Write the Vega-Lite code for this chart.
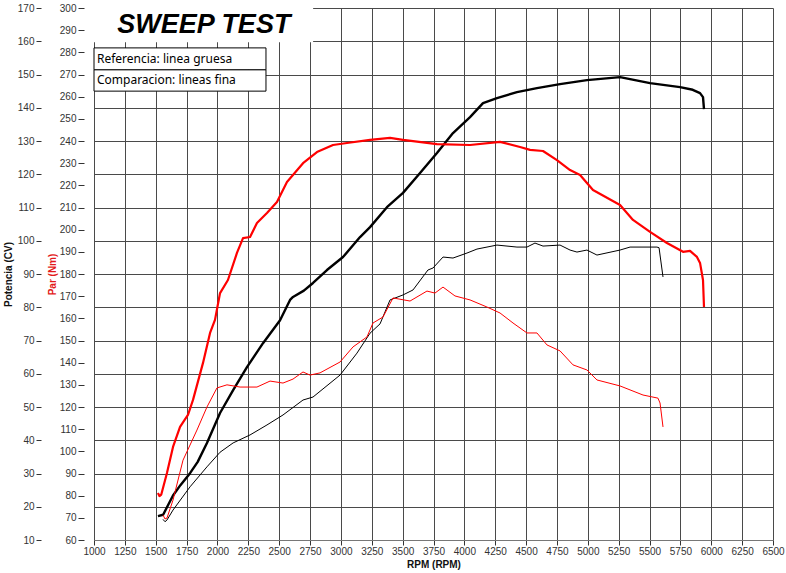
{
  "$schema": "https://vega.github.io/schema/vega-lite/v6.json",
  "width": 679,
  "height": 532,
  "autosize": {"type": "none"},
  "padding": {"left": 94, "top": 8, "right": 13, "bottom": 33},
  "background": "white",
  "config": {
    "view": {"stroke": null},
    "axis": {
      "labelFont": "Liberation Sans",
      "titleFont": "Liberation Sans",
      "labelFontSize": 10,
      "labelColor": "#333333",
      "tickColor": "#333333",
      "titleFontSize": 10,
      "titleFontWeight": "bold",
      "titleColor": "#111111",
      "labelOverlap": false,
      "labelBound": false,
      "tickCount": 60
    }
  },
  "datasets": {
    "potencia": [
      {"series": "ref", "rpm": 1518, "cv": 17.2}, {"series": "ref", "rpm": 1560, "cv": 17.6}, {"series": "ref", "rpm": 1640, "cv": 23.4}, {"series": "ref", "rpm": 1700, "cv": 26.5}, {"series": "ref", "rpm": 1778, "cv": 30.1}, {"series": "ref", "rpm": 1840, "cv": 33.5}, {"series": "ref", "rpm": 1915, "cv": 39.2}, {"series": "ref", "rpm": 2021, "cv": 48.2}, {"series": "ref", "rpm": 2127, "cv": 55.1}, {"series": "ref", "rpm": 2239, "cv": 62.0}, {"series": "ref", "rpm": 2369, "cv": 69.2}, {"series": "ref", "rpm": 2507, "cv": 76.1}, {"series": "ref", "rpm": 2588, "cv": 82.2}, {"series": "ref", "rpm": 2612, "cv": 83.1}, {"series": "ref", "rpm": 2700, "cv": 85.0}, {"series": "ref", "rpm": 2774, "cv": 87.3}, {"series": "ref", "rpm": 2887, "cv": 91.2}, {"series": "ref", "rpm": 3017, "cv": 95.1}, {"series": "ref", "rpm": 3155, "cv": 101.1}, {"series": "ref", "rpm": 3236, "cv": 104.1}, {"series": "ref", "rpm": 3373, "cv": 110.1}, {"series": "ref", "rpm": 3503, "cv": 114.4}, {"series": "ref", "rpm": 3641, "cv": 120.4}, {"series": "ref", "rpm": 3778, "cv": 126.4}, {"series": "ref", "rpm": 3908, "cv": 132.4}, {"series": "ref", "rpm": 4046, "cv": 137.2}, {"series": "ref", "rpm": 4151, "cv": 141.4}, {"series": "ref", "rpm": 4264, "cv": 142.9}, {"series": "ref", "rpm": 4426, "cv": 144.7}, {"series": "ref", "rpm": 4588, "cv": 145.9}, {"series": "ref", "rpm": 4775, "cv": 147.1}, {"series": "ref", "rpm": 4993, "cv": 148.3}, {"series": "ref", "rpm": 5261, "cv": 149.2}, {"series": "ref", "rpm": 5504, "cv": 147.4}, {"series": "ref", "rpm": 5747, "cv": 146.2}, {"series": "ref", "rpm": 5850, "cv": 145.4}, {"series": "ref", "rpm": 5909, "cv": 144.4}, {"series": "ref", "rpm": 5933, "cv": 143.2}, {"series": "ref", "rpm": 5941, "cv": 139.6},
      {"series": "comp", "rpm": 1559, "cv": 16.2}, {"series": "comp", "rpm": 1575, "cv": 15.5}, {"series": "comp", "rpm": 1591, "cv": 16.0}, {"series": "comp", "rpm": 1640, "cv": 19.0}, {"series": "comp", "rpm": 1778, "cv": 26.0}, {"series": "comp", "rpm": 1915, "cv": 32.0}, {"series": "comp", "rpm": 2021, "cv": 36.4}, {"series": "comp", "rpm": 2127, "cv": 39.2}, {"series": "comp", "rpm": 2264, "cv": 41.6}, {"series": "comp", "rpm": 2401, "cv": 44.6}, {"series": "comp", "rpm": 2531, "cv": 47.6}, {"series": "comp", "rpm": 2693, "cv": 52.1}, {"series": "comp", "rpm": 2774, "cv": 53.0}, {"series": "comp", "rpm": 2993, "cv": 59.6}, {"series": "comp", "rpm": 3130, "cv": 66.2}, {"series": "comp", "rpm": 3236, "cv": 72.2}, {"series": "comp", "rpm": 3317, "cv": 75.0}, {"series": "comp", "rpm": 3398, "cv": 82.2}, {"series": "comp", "rpm": 3503, "cv": 83.7}, {"series": "comp", "rpm": 3584, "cv": 85.2}, {"series": "comp", "rpm": 3705, "cv": 91.2}, {"series": "comp", "rpm": 3746, "cv": 91.8}, {"series": "comp", "rpm": 3827, "cv": 95.1}, {"series": "comp", "rpm": 3908, "cv": 94.8}, {"series": "comp", "rpm": 4021, "cv": 96.3}, {"series": "comp", "rpm": 4102, "cv": 97.5}, {"series": "comp", "rpm": 4264, "cv": 98.7}, {"series": "comp", "rpm": 4426, "cv": 98.1}, {"series": "comp", "rpm": 4507, "cv": 98.1}, {"series": "comp", "rpm": 4572, "cv": 99.3}, {"series": "comp", "rpm": 4637, "cv": 98.4}, {"series": "comp", "rpm": 4775, "cv": 98.7}, {"series": "comp", "rpm": 4856, "cv": 97.2}, {"series": "comp", "rpm": 4912, "cv": 96.6}, {"series": "comp", "rpm": 4993, "cv": 97.2}, {"series": "comp", "rpm": 5074, "cv": 95.7}, {"series": "comp", "rpm": 5261, "cv": 97.2}, {"series": "comp", "rpm": 5342, "cv": 98.1}, {"series": "comp", "rpm": 5560, "cv": 98.1}, {"series": "comp", "rpm": 5577, "cv": 97.9}, {"series": "comp", "rpm": 5609, "cv": 89.1}
    ],
    "par": [
      {"series": "ref", "rpm": 1518, "nm": 81.2}, {"series": "ref", "rpm": 1530, "nm": 79.8}, {"series": "ref", "rpm": 1545, "nm": 80.5}, {"series": "ref", "rpm": 1591, "nm": 90.2}, {"series": "ref", "rpm": 1640, "nm": 102.0}, {"series": "ref", "rpm": 1697, "nm": 111.0}, {"series": "ref", "rpm": 1761, "nm": 116.4}, {"series": "ref", "rpm": 1802, "nm": 123.2}, {"series": "ref", "rpm": 1883, "nm": 139.9}, {"series": "ref", "rpm": 1940, "nm": 153.4}, {"series": "ref", "rpm": 1980, "nm": 159.3}, {"series": "ref", "rpm": 2021, "nm": 171.4}, {"series": "ref", "rpm": 2085, "nm": 177.3}, {"series": "ref", "rpm": 2158, "nm": 189.5}, {"series": "ref", "rpm": 2207, "nm": 196.2}, {"series": "ref", "rpm": 2264, "nm": 196.7}, {"series": "ref", "rpm": 2320, "nm": 203.0}, {"series": "ref", "rpm": 2401, "nm": 207.5}, {"series": "ref", "rpm": 2482, "nm": 212.5}, {"series": "ref", "rpm": 2563, "nm": 221.5}, {"series": "ref", "rpm": 2693, "nm": 230.0}, {"series": "ref", "rpm": 2806, "nm": 235.0}, {"series": "ref", "rpm": 2936, "nm": 238.2}, {"series": "ref", "rpm": 3049, "nm": 239.1}, {"series": "ref", "rpm": 3236, "nm": 240.5}, {"series": "ref", "rpm": 3398, "nm": 241.4}, {"series": "ref", "rpm": 3503, "nm": 240.5}, {"series": "ref", "rpm": 3778, "nm": 238.6}, {"series": "ref", "rpm": 4046, "nm": 238.2}, {"series": "ref", "rpm": 4289, "nm": 239.6}, {"series": "ref", "rpm": 4451, "nm": 237.3}, {"series": "ref", "rpm": 4532, "nm": 236.0}, {"series": "ref", "rpm": 4637, "nm": 235.5}, {"series": "ref", "rpm": 4750, "nm": 231.4}, {"series": "ref", "rpm": 4856, "nm": 226.9}, {"series": "ref", "rpm": 4937, "nm": 224.7}, {"series": "ref", "rpm": 5042, "nm": 217.9}, {"series": "ref", "rpm": 5261, "nm": 211.1}, {"series": "ref", "rpm": 5366, "nm": 204.4}, {"series": "ref", "rpm": 5504, "nm": 199.0}, {"series": "ref", "rpm": 5641, "nm": 194.0}, {"series": "ref", "rpm": 5771, "nm": 190.0}, {"series": "ref", "rpm": 5828, "nm": 190.4}, {"series": "ref", "rpm": 5884, "nm": 187.7}, {"series": "ref", "rpm": 5909, "nm": 185.0}, {"series": "ref", "rpm": 5933, "nm": 177.3}, {"series": "ref", "rpm": 5941, "nm": 165.1},
      {"series": "comp", "rpm": 1559, "nm": 71.3}, {"series": "comp", "rpm": 1575, "nm": 69.5}, {"series": "comp", "rpm": 1591, "nm": 69.9}, {"series": "comp", "rpm": 1640, "nm": 78.0}, {"series": "comp", "rpm": 1721, "nm": 96.0}, {"series": "comp", "rpm": 1834, "nm": 109.6}, {"series": "comp", "rpm": 1915, "nm": 120.0}, {"series": "comp", "rpm": 1996, "nm": 128.6}, {"series": "comp", "rpm": 2077, "nm": 130.0}, {"series": "comp", "rpm": 2183, "nm": 129.0}, {"series": "comp", "rpm": 2320, "nm": 129.0}, {"series": "comp", "rpm": 2426, "nm": 131.7}, {"series": "comp", "rpm": 2531, "nm": 130.8}, {"series": "comp", "rpm": 2612, "nm": 132.6}, {"series": "comp", "rpm": 2693, "nm": 135.8}, {"series": "comp", "rpm": 2750, "nm": 134.4}, {"series": "comp", "rpm": 2831, "nm": 135.4}, {"series": "comp", "rpm": 2993, "nm": 140.3}, {"series": "comp", "rpm": 3098, "nm": 147.1}, {"series": "comp", "rpm": 3211, "nm": 151.6}, {"series": "comp", "rpm": 3260, "nm": 157.9}, {"series": "comp", "rpm": 3341, "nm": 160.6}, {"series": "comp", "rpm": 3422, "nm": 169.2}, {"series": "comp", "rpm": 3560, "nm": 167.8}, {"series": "comp", "rpm": 3697, "nm": 172.3}, {"series": "comp", "rpm": 3762, "nm": 171.4}, {"series": "comp", "rpm": 3827, "nm": 174.1}, {"series": "comp", "rpm": 3924, "nm": 170.1}, {"series": "comp", "rpm": 4046, "nm": 168.3}, {"series": "comp", "rpm": 4183, "nm": 165.1}, {"series": "comp", "rpm": 4289, "nm": 162.4}, {"series": "comp", "rpm": 4394, "nm": 157.9}, {"series": "comp", "rpm": 4507, "nm": 153.4}, {"series": "comp", "rpm": 4588, "nm": 153.4}, {"series": "comp", "rpm": 4669, "nm": 148.0}, {"series": "comp", "rpm": 4775, "nm": 145.3}, {"series": "comp", "rpm": 4880, "nm": 139.0}, {"series": "comp", "rpm": 4993, "nm": 136.7}, {"series": "comp", "rpm": 5074, "nm": 132.2}, {"series": "comp", "rpm": 5261, "nm": 129.5}, {"series": "comp", "rpm": 5447, "nm": 125.4}, {"series": "comp", "rpm": 5568, "nm": 124.0}, {"series": "comp", "rpm": 5585, "nm": 121.8}, {"series": "comp", "rpm": 5609, "nm": 111.0}
    ]
  },
  "layer": [
    {
      "layer": [
        {
          "data": {"name": "potencia"},
          "mark": {"type": "line", "color": "#000000", "strokeJoin": "round"},
          "encoding": {
            "x": {
              "field": "rpm", "type": "quantitative",
              "scale": {"domain": [1000, 6500], "nice": false, "zero": false},
              "axis": {
                "title": "RPM (RPM)",
                "values": [1000, 1250, 1500, 1750, 2000, 2250, 2500, 2750, 3000, 3250, 3500, 3750, 4000, 4250, 4500, 4750, 5000, 5250, 5500, 5750, 6000, 6250, 6500],
                "tickCount": 60,
                "format": "d",
                "grid": true, "gridColor": "#4a4a4a", "gridWidth": 1,
                "domain": true, "domainColor": "#777777",
                "tickSize": 5, "labelPadding": 1, "labelFlush": false,
                "titlePadding": 3, "titleAnchor": "middle"
              }
            },
            "y": {
              "field": "cv", "type": "quantitative",
              "scale": {"domain": [10, 170], "nice": false, "zero": false},
              "axis": {
                "orient": "left", "offset": 53,
                "title": "Potencia (CV)",
                "values": [10, 20, 30, 40, 50, 60, 70, 80, 90, 100, 110, 120, 130, 140, 150, 160, 170],
                "tickCount": 60,
                "grid": true, "gridColor": "#4a4a4a", "gridWidth": 1,
                "domain": false, "tickSize": 5, "labelPadding": 2, "titlePadding": 4
              }
            },
            "detail": {"field": "series"},
            "strokeWidth": {"field": "series", "type": "nominal", "scale": {"domain": ["ref", "comp"], "range": [2.4, 1]}, "legend": null}
          }
        },
        {
          "data": {"values": [{}]},
          "mark": {"type": "rect", "fill": "white", "stroke": null},
          "encoding": {
            "x": {"datum": 1000}, "x2": {"datum": 2775},
            "y": {"datum": 159.7}, "y2": {"datum": 170}
          }
        },
        {
          "data": {"values": [{}]},
          "mark": {"type": "text", "text": "SWEEP TEST", "font": "Liberation Sans", "fontSize": 27, "fontWeight": "bold", "fontStyle": "italic", "align": "center", "baseline": "middle", "color": "#000000"},
          "encoding": {"x": {"datum": 1890}, "y": {"datum": 164.8}}
        },
        {
          "data": {"values": [{}]},
          "mark": {"type": "rect", "fill": "white", "stroke": "#000000", "strokeWidth": 1},
          "encoding": {
            "x": {"datum": 1000}, "x2": {"datum": 2393},
            "y": {"datum": 151.4}, "y2": {"datum": 158}
          }
        },
        {
          "data": {"values": [{}]},
          "mark": {"type": "rect", "fill": "white", "stroke": "#000000", "strokeWidth": 1},
          "encoding": {
            "x": {"datum": 1000}, "x2": {"datum": 2393},
            "y": {"datum": 145}, "y2": {"datum": 151.4}
          }
        },
        {
          "data": {"values": [{}]},
          "mark": {"type": "text", "text": "Referencia: linea gruesa", "font": "Noto Sans", "fontSize": 12, "align": "left", "baseline": "middle", "color": "#000000"},
          "encoding": {"x": {"datum": 1024}, "y": {"datum": 154.7}}
        },
        {
          "data": {"values": [{}]},
          "mark": {"type": "text", "text": "Comparacion: lineas fina", "font": "Noto Sans", "fontSize": 12, "align": "left", "baseline": "middle", "color": "#000000"},
          "encoding": {"x": {"datum": 1024}, "y": {"datum": 148.2}}
        }
      ]
    },
    {
      "data": {"name": "par"},
      "mark": {"type": "line", "color": "#ff0000", "strokeJoin": "round"},
      "encoding": {
        "x": {"field": "rpm", "type": "quantitative"},
        "y": {
          "field": "nm", "type": "quantitative",
          "scale": {"domain": [60, 300], "nice": false, "zero": false},
          "axis": {
            "orient": "left", "offset": 10,
            "title": "Par (Nm)", "titleColor": "#e31a1c",
            "values": [60, 70, 80, 90, 100, 110, 120, 130, 140, 150, 160, 170, 180, 190, 200, 210, 220, 230, 240, 250, 260, 270, 280, 290, 300],
            "tickCount": 60,
            "grid": false, "domain": false, "tickSize": 6, "labelPadding": 2, "titlePadding": 2
          }
        },
        "detail": {"field": "series"},
        "strokeWidth": {"field": "series", "type": "nominal", "scale": {"domain": ["ref", "comp"], "range": [2.2, 1]}, "legend": null}
      }
    }
  ],
  "resolve": {"scale": {"y": "independent", "strokeWidth": "independent"}}
}
